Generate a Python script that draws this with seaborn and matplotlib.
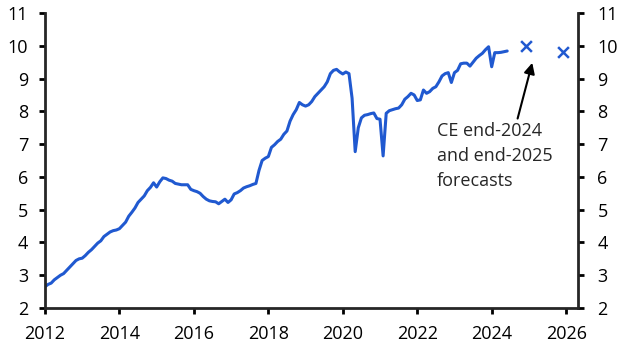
import numpy as np
import pandas as pd
import matplotlib
matplotlib.use("Agg")
import matplotlib.pyplot as plt
import seaborn as sns

# monthly values, Jan 2012 - Jun 2024
v2012 = [2.65, 2.72, 2.76, 2.86, 2.93, 3.00, 3.05, 3.15, 3.25, 3.35, 3.45, 3.50]
v2013 = [3.52, 3.60, 3.70, 3.78, 3.88, 3.98, 4.05, 4.18, 4.25, 4.32, 4.36, 4.38]
v2014 = [4.42, 4.52, 4.62, 4.80, 4.92, 5.05, 5.22, 5.32, 5.42, 5.58, 5.68, 5.82]
v2015 = [5.69, 5.85, 5.97, 5.95, 5.90, 5.87, 5.80, 5.78, 5.76, 5.76, 5.76, 5.62]
v2016 = [5.58, 5.55, 5.50, 5.40, 5.32, 5.27, 5.25, 5.24, 5.18, 5.25, 5.32, 5.22]
v2017 = [5.30, 5.48, 5.52, 5.58, 5.66, 5.70, 5.73, 5.77, 5.80, 6.20, 6.50, 6.57]
v2018 = [6.62, 6.90, 6.98, 7.08, 7.15, 7.30, 7.40, 7.70, 7.90, 8.05, 8.27, 8.20]
v2019 = [8.16, 8.20, 8.30, 8.45, 8.55, 8.65, 8.75, 8.90, 9.15, 9.25, 9.28, 9.20]
v2020 = [9.14, 9.20, 9.15, 8.40, 6.77, 7.50, 7.80, 7.88, 7.90, 7.93, 7.95, 7.78]
v2021 = [7.76, 6.64, 7.94, 8.02, 8.05, 8.08, 8.10, 8.20, 8.37, 8.45, 8.55, 8.50]
v2022 = [8.33, 8.35, 8.65, 8.55, 8.60, 8.70, 8.75, 8.90, 9.08, 9.15, 9.18, 8.88]
v2023 = [9.18, 9.25, 9.45, 9.47, 9.47, 9.38, 9.50, 9.62, 9.70, 9.77, 9.88, 9.97]
v2024 = [9.36, 9.79, 9.79, 9.80, 9.82, 9.84]

forecast_t = [2024 + 11 / 12, 2025 + 11 / 12]
forecast_v = [10.0, 9.8]

values = v2012 + v2013 + v2014 + v2015 + v2016 + v2017 + v2018 + v2019 + v2020 + v2021 + v2022 + v2023 + v2024
df = pd.DataFrame({"t": 2012 + np.arange(len(values)) / 12, "v": values})

sns.set_style("ticks")
plt.rcParams["font.family"] = ["Open Sans", "DejaVu Sans"]

blue = "#2059d0"
fig = plt.figure(figsize=(6.29, 3.56), dpi=100)
ax = fig.add_axes([0.0715, 0.1348, 0.8475, 0.8287])

sns.lineplot(data=df, x="t", y="v", ax=ax, color=blue, linewidth=2.2)
sns.scatterplot(x=forecast_t, y=forecast_v, ax=ax, marker="x", color=blue, s=60, linewidth=1.8)

ax.set_xlim(2012, 2026.32)
ax.set_ylim(2, 11)
ax.set_xticks(range(2012, 2027, 2))
ax.set_yticks(range(2, 12))
ax.set_xlabel("")
ax.set_ylabel("")

ax2 = ax.twinx()
ax2.set_ylim(2, 11)
ax2.set_yticks(range(2, 12))

for a in (ax, ax2):
    a.spines["top"].set_visible(False)
    for s in ("left", "right", "bottom"):
        a.spines[s].set_linewidth(2)
    a.tick_params(width=2, length=4, labelsize=13, colors="black")
ax.spines["right"].set_visible(False)
ax2.spines["left"].set_visible(False)
ax2.spines["bottom"].set_visible(False)
ax.tick_params(axis="y", pad=8)
ax.tick_params(axis="x", pad=8)
ax2.tick_params(axis="y", pad=10)

ax.annotate("CE end-2024\nand end-2025\nforecasts", xy=(2025.09, 9.48), xytext=(2022.53, 7.68),
            fontsize=13, ha="left", va="top", linespacing=1.52,
            arrowprops=dict(arrowstyle="-|>", color="black", lw=1.5, mutation_scale=16,
                            shrinkA=0, shrinkB=0, relpos=(0.69, 1.0)))

fig.savefig("out.png", dpi=100)
